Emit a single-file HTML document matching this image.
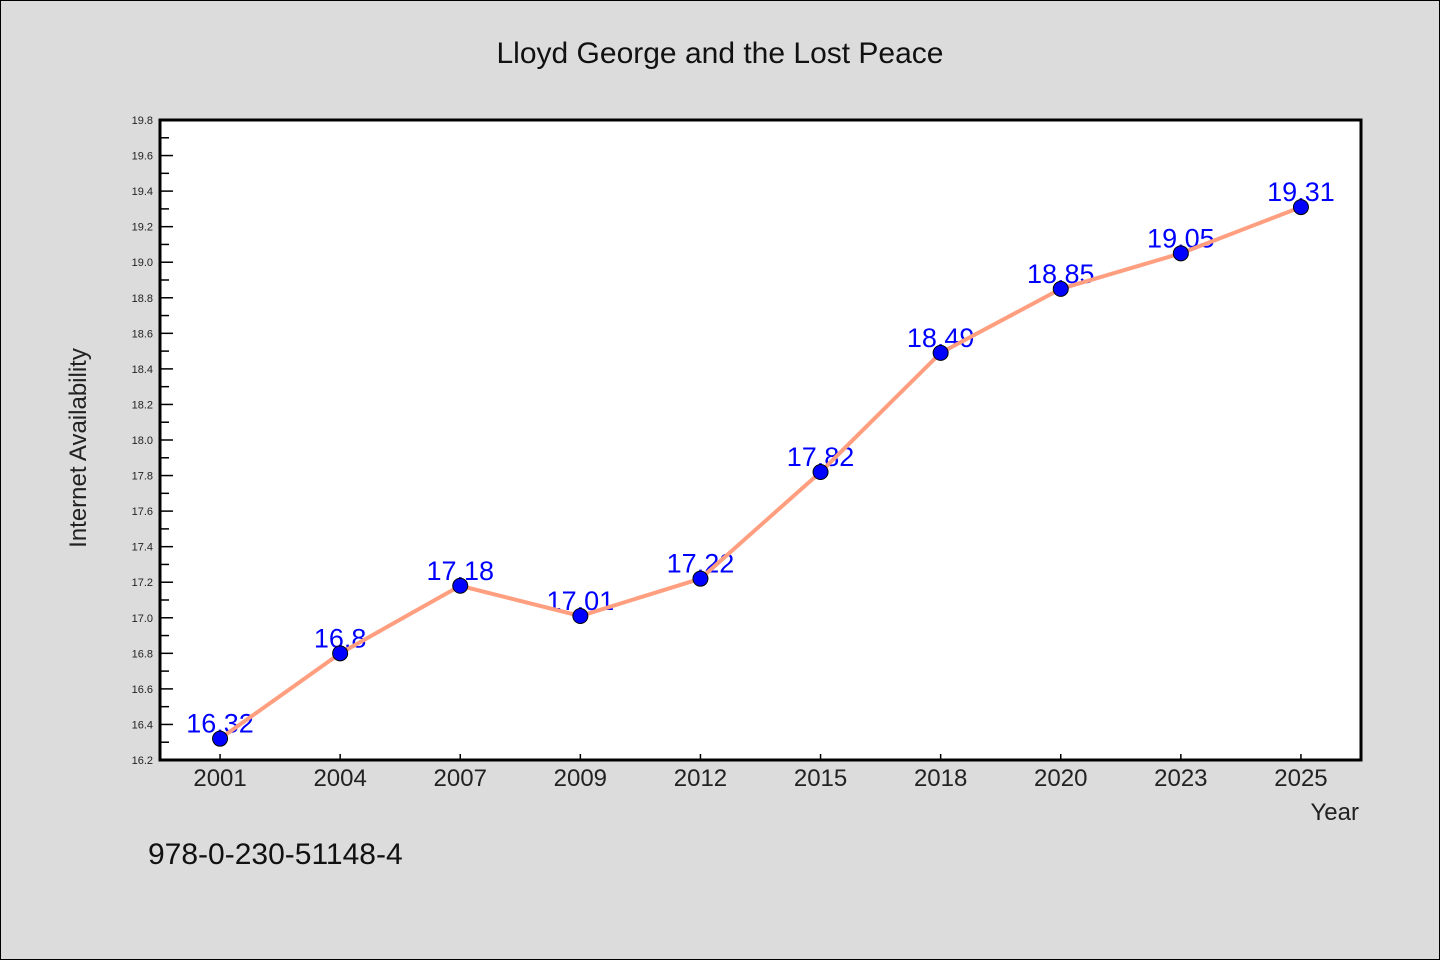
<!DOCTYPE html>
<html><head><meta charset="utf-8"><style>
body{margin:0;background:#dcdcdc;}
svg{display:block;font-family:"WenQuanYi Zen Hei","Liberation Sans",sans-serif;}
</style></head><body>
<svg width="1440" height="960">
<rect x="0.5" y="0.5" width="1439" height="959" fill="#dcdcdc" stroke="#000"/>
<text x="720" y="63" text-anchor="middle" font-size="30" fill="#111">Lloyd George and the Lost Peace</text>
<rect x="160" y="120" width="1201" height="640" fill="#fff"/>
<g id="yaxis"></g><g id="xaxis"></g><g id="labels"></g><g id="series"></g>
<rect x="160" y="120" width="1201" height="640" fill="none" stroke="#000" stroke-width="3"/>
<text x="86" y="448" transform="rotate(-90 86 448)" text-anchor="middle" font-size="24" fill="#222">Internet Availability</text>
<text x="1359" y="820" text-anchor="end" font-size="24" fill="#222">Year</text>
<text x="148" y="864" font-size="30" fill="#111">978-0-230-51148-4</text>
</svg>
<script>
const categories=["2001","2004","2007","2009","2012","2015","2018","2020","2023","2025"];
const values=[16.32,16.8,17.18,17.01,17.22,17.82,18.49,18.85,19.05,19.31];
const yTicks=[16.2,16.4,16.6,16.8,17.0,17.2,17.4,17.6,17.8,18.0,18.2,18.4,18.6,18.8,19.0,19.2,19.4,19.6,19.8];
const NS="http://www.w3.org/2000/svg";
const L=160,R=1361,T=120,B=760,YMIN=16.2,YMAX=19.8;
const y=v=>B-(v-YMIN)/(YMAX-YMIN)*(B-T);
const x=i=>L+(R-L)/categories.length*(i+0.5);
function mk(tag,a,p){const e=document.createElementNS(NS,tag);for(const k in a)e.setAttribute(k,a[k]);p.appendChild(e);return e;}
const ya=document.getElementById('yaxis');
yTicks.forEach((t,i)=>{
 const g=mk('line',{x1:L,x2:L+13,y1:y(t),y2:y(t),stroke:'#000','stroke-width':1.5},ya);
 
 
 if(i<yTicks.length-1){const m=mk('line',{x1:L,x2:L+9,y1:y(t+0.1),y2:y(t+0.1),stroke:'#000','stroke-width':1.5},ya);
 
 }
 const tx=mk('text',{x:L-7,y:y(t)+4,'text-anchor':'end','font-size':11,fill:'#222'},ya);tx.textContent=t.toFixed(1);
 
 
});
const xa=document.getElementById('xaxis');
categories.forEach((c,i)=>{
 const tk=mk('line',{x1:x(i),x2:x(i),y1:B,y2:B-6,stroke:'#000','stroke-width':1.5},xa);
 
 
 const tx=mk('text',{x:x(i),y:B+26,'text-anchor':'middle','font-size':24,fill:'#222'},xa);tx.textContent=c;
 
 
});
const lb=document.getElementById('labels');
values.forEach((v,i)=>{
 const tx=mk('text',{x:x(i),y:y(v)-6,'text-anchor':'middle','font-size':27,fill:'#0000ff'},lb);tx.textContent=String(v);
 
 
});
const s=document.getElementById('series');
const pl=mk('polyline',{points:values.map((v,i)=>x(i)+','+y(v)).join(' '),fill:'none',stroke:'#ff9f7f','stroke-width':4},s);


values.forEach((v,i)=>{
 const c=mk('circle',{cx:x(i),cy:y(v),r:7.5,fill:'#0000ff',stroke:'#000','stroke-width':1},s);
 
 
});
</script>
</body></html>
